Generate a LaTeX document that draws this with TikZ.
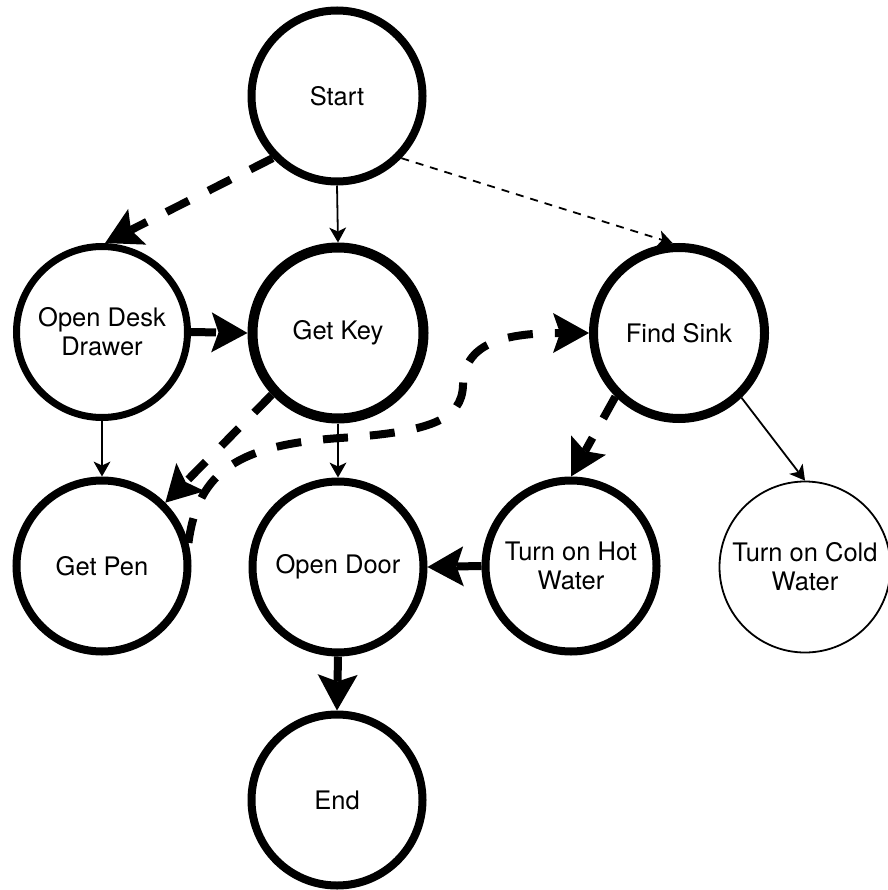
\documentclass[tikz,border=0pt]{standalone}
\usepackage{fontspec}
\setmainfont{TeX Gyre Heros}
\usetikzlibrary{arrows.meta}
\begin{document}
\begin{tikzpicture}[x=1pt, y=-1pt,
  state/.style={circle, draw, fill=white, minimum size=171pt, inner sep=0pt,
    align=center, font=\fontsize{25.5}{29}\selectfont, line width=8pt},
  lineedge/.style={line width=1.8pt,
    -{Stealth[length=15pt, width=17pt, inset=4pt, line width=0pt]}},
  lightdash/.style={lineedge, dash pattern=on 8pt off 7pt},
  heavyedge/.style={line width=8pt,
    -{Stealth[length=36pt, width=40pt, inset=7pt, line width=0pt]}},
  heavydash/.style={heavyedge, dash pattern=on 25pt off 22pt}]

\useasboundingbox (0,0) rectangle (887,890);

% states
\node[state] (start) at (337,96) {Start};
\node[state, line width=7pt] (odd) at (102,332) {Open Desk\\Drawer};
\node[state, line width=10pt] (key) at (338,333) {Get Key};
\node[state, line width=9pt] (sink) at (679,333) {Find Sink};
\node[state] (pen) at (102,566) {Get Pen};
\node[state] (door) at (338,567) {Open Door};
\node[state] (hot) at (571,566) {Turn on Hot\\Water};
\node[state, line width=1.8pt] (cold) at (805,567) {Turn on Cold\\Water};
\node[state] (end) at (337,800) {End};

% transitions
\draw[heavydash] (start.224) -- (odd.88);
\draw[lineedge] (start.south) -- (key.north);
\draw[lightdash] (start.-44) -- (sink.94);
\draw[heavydash] (odd.east) -- (key.west);
\draw[lineedge] (odd.south) -- (pen.north);
\draw[lineedge] (key.south) -- (door.north);
\draw[heavydash] (key.223) -- (pen.45);
\draw[heavydash] (pen.15) .. controls (198,470) and (240,445) .. (340,438)
  .. controls (430,432) and (462,420) .. (463,385)
  .. controls (464,345) and (500,333) .. (sink.west);
\draw[heavydash] (sink.225) -- (hot.90);
\draw[lineedge] (sink.-46) -- (cold.90);
\draw[heavydash] (hot.west) -- (door.east);
\draw[heavyedge] (door.south) -- (end.north);
\end{tikzpicture}
\end{document}
